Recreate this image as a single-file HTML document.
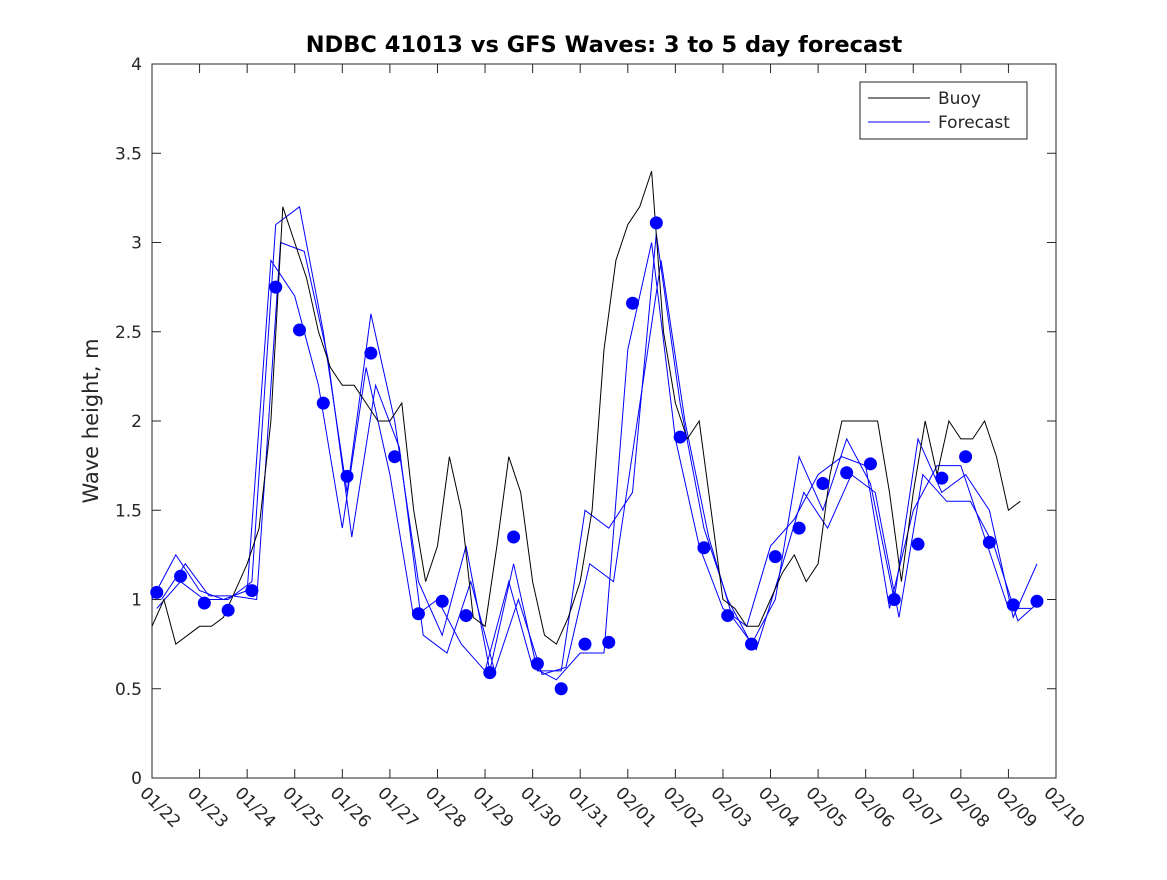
<!DOCTYPE html>
<html><head><meta charset="utf-8"><style>
body{margin:0;background:#fff;}
svg text{font-family:"DejaVu Sans","Liberation Sans",sans-serif;}
</style></head><body>
<svg id="chart" width="1167" height="875" xmlns="http://www.w3.org/2000/svg">
<rect x="0" y="0" width="1167" height="875" fill="#fff"/>
<text x="604" y="52" text-anchor="middle" font-size="22.5" font-weight="bold">NDBC 41013 vs GFS Waves: 3 to 5 day forecast</text>
<rect x="152" y="64" width="904" height="714" fill="#fff" stroke="#262626" stroke-width="1"/>
<g id="axes"></g>
<g id="series"></g>
<text transform="translate(98,421) rotate(-90)" text-anchor="middle" font-size="21" fill="#262626">Wave height, m</text>
<g>
<rect x="860" y="82" width="167" height="57" fill="#fff" stroke="#262626" stroke-width="1"/>
<line x1="868" y1="98" x2="930" y2="98" stroke="#000" stroke-width="1"/>
<text x="938" y="104" font-size="17" fill="#262626">Buoy</text>
<line x1="868" y1="122" x2="930" y2="122" stroke="#0000ff" stroke-width="1"/>
<text x="938" y="128" font-size="17" fill="#262626">Forecast</text>
</g>
</svg>
<script>
const xTickLabels=["01/22","01/23","01/24","01/25","01/26","01/27","01/28","01/29","01/30","01/31","02/01","02/02","02/03","02/04","02/05","02/06","02/07","02/08","02/09","02/10"];
const yTicks=[0,0.5,1,1.5,2,2.5,3,3.5,4];
const buoyStep=0.25;
const buoy=[0.85,1.0,0.75,0.8,0.85,0.85,0.9,1.05,1.2,1.4,2.0,3.2,3.0,2.8,2.5,2.3,2.2,2.2,2.1,2.0,2.0,2.1,1.5,1.1,1.3,1.8,1.5,0.9,0.85,1.3,1.8,1.6,1.1,0.8,0.75,0.9,1.1,1.5,2.4,2.9,3.1,3.2,3.4,2.5,2.1,1.9,2.0,1.5,1.0,0.95,0.85,0.85,1.0,1.15,1.25,1.1,1.2,1.7,2.0,2.0,2.0,2.0,1.6,1.1,1.6,2.0,1.7,2.0,1.9,1.9,2.0,1.8,1.5,1.55];
const dotStart=0.1, dotStep=0.5;
const dots=[1.04,1.13,0.98,0.94,1.05,2.75,2.51,2.1,1.69,2.38,1.8,0.92,0.99,0.91,0.59,1.35,0.64,0.5,0.75,0.76,2.66,3.11,1.91,1.29,0.91,0.75,1.24,1.4,1.65,1.71,1.76,1.0,1.31,1.68,1.8,1.32,0.97,0.99];
const fcStep=0.5;
const fc1=[1.0,1.25,1.05,1.0,1.05,2.9,2.7,2.2,1.4,2.3,1.7,0.9,1.0,0.75,0.6,1.1,0.62,0.55,0.7,0.7,2.4,3.0,1.9,1.3,0.95,0.85,1.3,1.45,1.7,1.8,1.75,0.95,1.5,1.75,1.75,1.35,0.95,0.95];
const fc2=[0.95,1.1,1.0,1.0,1.1,3.1,3.2,2.5,1.6,2.6,2.0,1.1,0.8,1.3,0.6,1.2,0.6,0.6,1.5,1.4,1.6,3.05,2.1,1.4,1.0,0.75,1.0,1.8,1.5,1.9,1.65,1.0,1.9,1.6,1.7,1.5,0.9,1.2];
const fc3=[1.0,1.2,1.02,1.02,1.0,3.0,2.95,2.35,1.35,2.2,1.85,0.8,0.7,1.1,0.6,1.0,0.58,0.62,1.2,1.1,2.0,2.9,2.0,1.35,0.9,0.72,1.15,1.6,1.4,1.7,1.6,0.9,1.7,1.55,1.55,1.3,0.88,1.0];
const ns="http://www.w3.org/2000/svg";
const X0=152,X1=1056,Y0=778,Y1=64,DAYS=19,YMAX=4;
function xs(d){return X0+(X1-X0)*d/DAYS;}
function ys(v){return Y0-(Y0-Y1)*v/YMAX;}
function mk(tag,attrs,parent){const e=document.createElementNS(ns,tag);for(const k in attrs)e.setAttribute(k,attrs[k]);parent.appendChild(e);return e;}
const axes=document.getElementById('axes'), ser=document.getElementById('series');
xTickLabels.forEach((lab,i)=>{
  const x=xs(i);
  mk('line',{x1:x,y1:Y0,x2:x,y2:Y0-9,stroke:'#262626'},axes);
  mk('line',{x1:x,y1:Y1,x2:x,y2:Y1+9,stroke:'#262626'},axes);
  const t=mk('text',{x:0,y:0,transform:`translate(${x-13},${Y0+16}) rotate(45)`,'font-size':'17',fill:'#262626'},axes);
  t.textContent=lab;
  
  
});
yTicks.forEach(v=>{
  const y=ys(v);
  mk('line',{x1:X0,y1:y,x2:X0+9,y2:y,stroke:'#262626'},axes);
  mk('line',{x1:X1,y1:y,x2:X1-9,y2:y,stroke:'#262626'},axes);
  const t=mk('text',{x:X0-10,y:y+6,'text-anchor':'end','font-size':'17',fill:'#262626'},axes);
  t.textContent=String(v);
  
  
});
function poly(arr,start,step,color,w,name){
  const pts=arr.map((v,i)=>xs(start+i*step).toFixed(1)+','+ys(v).toFixed(1)).join(' ');
  const p=mk('polyline',{points:pts,fill:'none',stroke:color,'stroke-width':w},ser);
  
  
}
poly(fc1,0,fcStep,'#0000ff',1,'forecast-line-1');
poly(fc2,0.1,fcStep,'#0000ff',1,'forecast-line-2');
poly(fc3,0.2,fcStep,'#0000ff',1,'forecast-line-3');
poly(buoy,0,buoyStep,'#000',1,'buoy-line');
dots.forEach((v,i)=>{
  const c=mk('circle',{cx:xs(dotStart+i*dotStep),cy:ys(v),r:6.5,fill:'#0000ff'},ser);
  
  
});
</script>
</body></html>
